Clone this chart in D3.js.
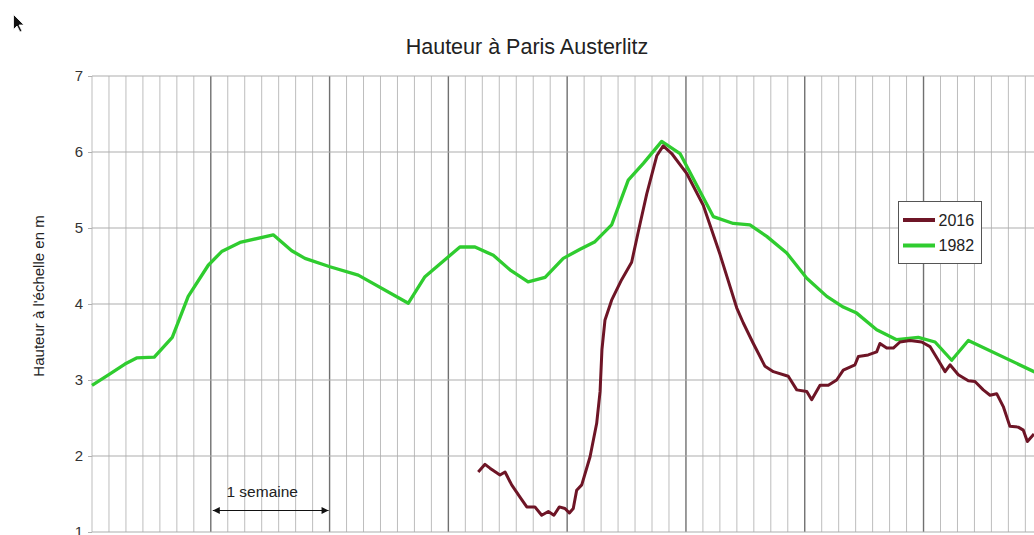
<!DOCTYPE html>
<html>
<head>
<meta charset="utf-8">
<script src="https://cdn.jsdelivr.net/npm/d3@7"></script>
<style>
  html, body { margin: 0; padding: 0; background: #fff; }
  svg { display: block; font-family: "Liberation Sans", Arial, sans-serif; }
</style>
</head>
<body>
<svg id="chart" width="1034" height="535"></svg>
<script>
// ---- data (days from the start of the plotted period, water height in m) ----
const yTickValues = [1, 2, 3, 4, 5, 6, 7];
const seriesNames = ["2016", "1982"];

const days1982 = [0, 1.06, 1.94, 2.63, 3.67, 4.73, 5.67, 6.85, 7.64, 8.72, 10.68, 11.77, 12.55, 14.02, 15.69,
  18.64, 19.62, 21.68, 22.57, 23.65, 24.63, 25.7, 26.7, 27.77, 28.76, 29.64, 30.62, 31.6, 32.49, 33.57,
  34.65, 36.61, 37.79, 38.77, 39.76, 40.94, 42.12, 43.3, 44.27, 45.06, 46.24, 47.42, 48.69, 49.68, 50.66,
  51.64, 55.51, 56];
const h1982 = [2.93, 3.08, 3.21, 3.29, 3.30, 3.56, 4.10, 4.51, 4.69, 4.81, 4.91, 4.70, 4.60, 4.49, 4.38,
  4.01, 4.36, 4.75, 4.75, 4.64, 4.45, 4.29, 4.35, 4.60, 4.72, 4.82, 5.04, 5.63, 5.85, 6.14,
  5.98, 5.15, 5.06, 5.04, 4.89, 4.67, 4.34, 4.10, 3.96, 3.88, 3.66, 3.53, 3.56, 3.50, 3.26,
  3.52, 3.11, 3.07];

const days2016 = [22.76, 23.16, 23.45, 24.04, 24.34, 24.73, 25.22, 25.62, 26.10, 26.50, 26.89, 27.22, 27.54,
  27.87, 28.13, 28.36, 28.56, 28.86, 29.35, 29.74, 29.94, 30.05, 30.23, 30.62, 31.21, 31.80, 32.19, 32.69,
  33.28, 33.66, 34.16, 35.04, 36.02, 37.01, 37.99, 38.38, 38.97, 39.66, 40.15, 41.03, 41.53, 42.12, 42.41,
  42.90, 43.39, 43.88, 44.27, 44.96, 45.16, 45.74, 46.24, 46.43, 46.83, 47.22, 47.61, 48.20, 48.89, 49.38,
  49.87, 50.27, 50.56, 51.05, 51.64, 52.03, 52.52, 52.92, 53.31, 53.70, 54.09, 54.58, 54.88, 55.12, 55.51];
const h2016 = [1.79, 1.89, 1.84, 1.75, 1.79, 1.62, 1.46, 1.33, 1.33, 1.22, 1.27, 1.22, 1.33,
  1.31, 1.25, 1.31, 1.55, 1.62, 1.99, 2.43, 2.85, 3.40, 3.79, 4.05, 4.32, 4.55, 4.95, 5.45,
  5.95, 6.08, 5.98, 5.72, 5.30, 4.65, 3.95, 3.75, 3.48, 3.18, 3.11, 3.05, 2.87, 2.85, 2.74,
  2.93, 2.93, 3.00, 3.13, 3.20, 3.31, 3.33, 3.37, 3.48, 3.42, 3.42, 3.50, 3.52, 3.50, 3.44,
  3.26, 3.11, 3.20, 3.07, 2.99, 2.98, 2.87, 2.80, 2.82, 2.65, 2.39, 2.38, 2.34, 2.19, 2.29];

const weekLabel = "1 semaine";
const weekStart = 7, weekEnd = 14;

// ---- layout ----
const svg = d3.select("#chart");
const plotLeft = 92, plotTop = 76, plotBottom = 532;
const dayPx = 16.97;
const nDays = 56;
const x = d3.scaleLinear().domain([0, nDays]).range([plotLeft, plotLeft + nDays * dayPx]);
const y = d3.scaleLinear().domain([1, 7]).range([plotBottom, plotTop]);

const defs = svg.append("defs");
defs.append("clipPath").attr("id", "clip")
  .append("rect").attr("x", plotLeft - 2).attr("y", plotTop - 2)
  .attr("width", 1034 - plotLeft + 20).attr("height", plotBottom - plotTop + 4);

// vertical day grid
const dayTicks = d3.range(0, nDays + 1);
svg.append("g").selectAll("line").data(dayTicks).join("line")
  .attr("x1", d => x(d)).attr("x2", d => x(d))
  .attr("y1", plotTop).attr("y2", plotBottom)
  .attr("stroke", d => (d % 7 === 0 && d > 0) ? "#707070" : "#bdbdbd")
  .attr("stroke-width", d => (d % 7 === 0 && d > 0) ? 1.4 : 1);

// horizontal grid + y axis
const yAxis = d3.axisLeft(y).tickValues(yTickValues).tickSize(4).tickPadding(5).tickFormat(d3.format("d"));
const ga = svg.append("g").attr("transform", `translate(${plotLeft},0)`).call(yAxis);
ga.select(".domain").remove();
ga.selectAll(".tick line").attr("stroke", "#b0b0b0");
ga.selectAll(".tick text").attr("fill", "#333").style("font-size", "15px")
  .style("font-family", "'Liberation Sans', Arial, sans-serif");
svg.append("g").selectAll("line").data(yTickValues).join("line")
  .attr("x1", plotLeft).attr("x2", 1034)
  .attr("y1", d => y(d)).attr("y2", d => y(d))
  .attr("stroke", "#adadad").attr("stroke-width", 1);

// lines
const line = d3.line().x(d => x(d[0])).y(d => y(d[1]));
const g = svg.append("g").attr("clip-path", "url(#clip)");
g.append("path").datum(days1982.map((d, i) => [d, h1982[i]]))
  .attr("d", line).attr("fill", "none").attr("stroke", "#2fcc2f")
  .attr("stroke-width", 3.3).attr("stroke-linejoin", "round");
g.append("path").datum(days2016.map((d, i) => [d, h2016[i]]))
  .attr("d", line).attr("fill", "none").attr("stroke", "#6e1526")
  .attr("stroke-width", 3).attr("stroke-linejoin", "round");

// title
svg.append("text").attr("x", 527).attr("y", 54).attr("text-anchor", "middle")
  .attr("fill", "#222").style("font-size", "21.5px").text("Hauteur à Paris Austerlitz");

// y label
svg.append("text").attr("transform", "translate(44,296) rotate(-90)")
  .attr("text-anchor", "middle").attr("fill", "#222").style("font-size", "15px")
  .text("Hauteur à l'échelle en m");

// legend
const lg = svg.append("g").attr("transform", "translate(898.5,201.5)");
lg.append("rect").attr("width", 83).attr("height", 62).attr("fill", "#fff")
  .attr("stroke", "#555").attr("stroke-width", 1);
const legColors = ["#6e1526", "#2fcc2f"];
seriesNames.forEach((n, i) => {
  const yy = 18.5 + i * 25.5;
  lg.append("line").attr("x1", 4.5).attr("x2", 36.5).attr("y1", yy).attr("y2", yy)
    .attr("stroke", legColors[i]).attr("stroke-width", 4);
  lg.append("text").attr("x", 40).attr("y", yy + 5.5).attr("fill", "#222")
    .style("font-size", "16px").text(n);
});

// week annotation
defs.append("marker").attr("id", "arr").attr("viewBox", "0 0 10 10")
  .attr("refX", 10).attr("refY", 5).attr("markerWidth", 11).attr("markerHeight", 7)
  .attr("markerUnits", "userSpaceOnUse").attr("orient", "auto-start-reverse")
  .append("path").attr("d", "M0,0 L10,5 L0,10 Z").attr("fill", "#111");
svg.append("line").attr("x1", x(weekStart) + 2).attr("x2", x(weekEnd) - 1)
  .attr("y1", 510.5).attr("y2", 510.5).attr("stroke", "#111").attr("stroke-width", 1)
  .attr("marker-start", "url(#arr)").attr("marker-end", "url(#arr)");
svg.append("text").attr("x", (x(weekStart) + x(weekEnd)) / 2 - 8).attr("y", 497)
  .attr("text-anchor", "middle").attr("fill", "#222").style("font-size", "15.5px").text(weekLabel);

// mouse cursor
svg.append("path").attr("transform", "translate(13.5,14.5)")
  .attr("d", "M0,0 L0,15 L3.5,11.5 L6.5,17.5 L8.5,16.5 L5.5,10.5 L10.5,10.5 Z")
  .attr("fill", "#111").attr("stroke", "#fff").attr("stroke-width", 0.8);
</script>
</body>
</html>
